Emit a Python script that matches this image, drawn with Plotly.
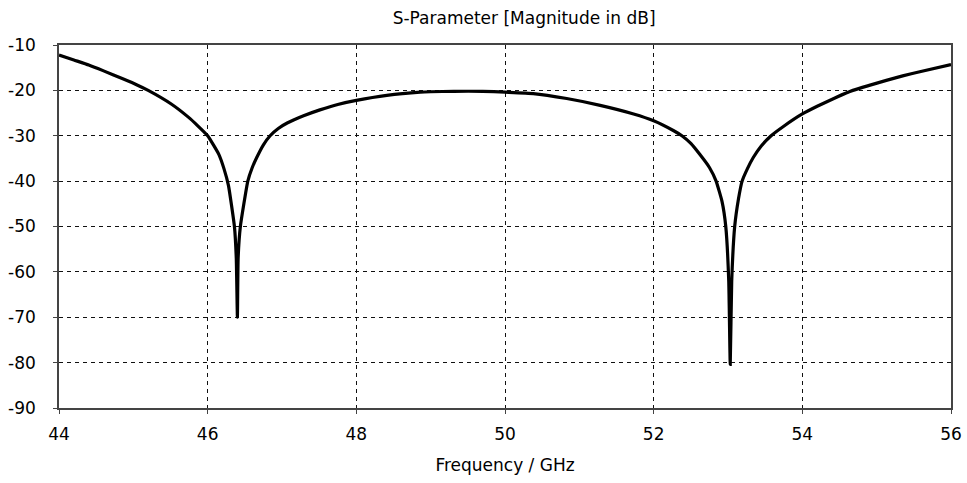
import plotly.graph_objects as go

# S11 magnitude
freq_ghz = [44.00, 44.20, 44.40, 44.60, 44.85, 45.05, 45.20, 45.51, 45.74, 45.86,
            46.00, 46.15, 46.22, 46.28, 46.36, 46.385, 46.40, 46.41, 46.44, 46.54,
            46.60, 46.66, 46.75, 46.84, 46.95, 47.07, 47.29, 47.51, 47.75, 48.00,
            48.41, 48.86, 49.00, 49.31, 49.70, 50.00, 50.38, 50.83, 51.28, 51.73,
            52.00, 52.27, 52.38, 52.50, 52.62, 52.75, 52.84, 52.92, 52.97, 53.01,
            53.03, 53.05, 53.09, 53.14, 53.19, 53.26, 53.34, 53.45, 53.58, 53.75,
            54.00, 54.20, 54.46, 54.68, 54.90, 55.13, 55.35, 55.58, 56.00]
s11_db = [-12.2, -13.3, -14.4, -15.7, -17.4, -18.8, -20.0, -23.0, -25.9, -27.7,
          -30.0, -34.1, -37.3, -41.0, -50.0, -57.0, -70.0, -57.0, -50.0, -40.0,
          -37.0, -34.8, -32.0, -30.0, -28.4, -27.2, -25.6, -24.3, -23.1, -22.2,
          -21.1, -20.4, -20.3, -20.2, -20.2, -20.4, -20.7, -21.8, -23.3, -25.2,
          -26.7, -28.9, -30.0, -31.7, -34.1, -37.0, -40.0, -44.5, -50.0, -62.0,
          -80.4, -62.0, -50.0, -44.0, -40.0, -37.3, -34.8, -32.2, -30.0, -27.9,
          -25.2, -23.5, -21.5, -20.0, -18.9, -17.8, -16.8, -15.9, -14.3]

x_ticks = [44, 46, 48, 50, 52, 54, 56]
y_ticks = [-90, -80, -70, -60, -50, -40, -30, -20, -10]
y_tick_text = ['-90', '-80', '-70', '-60', '-50', '-40', '-30', '-20', '-10']

fig = go.Figure()
fig.add_trace(go.Scatter(x=freq_ghz, y=s11_db, mode='lines',
                         line=dict(color='black', width=3.2, shape='spline', smoothing=0.4),
                         showlegend=False))

axis_style = dict(showline=True, linecolor='#444444', linewidth=1.5, mirror=True,
                  showgrid=True, gridcolor='#111111', griddash='4px,4px', gridwidth=1,
                  ticks='outside', ticklen=4, tickcolor='#444444', automargin=False,
                  zeroline=False, tickfont=dict(size=17, color='black'))

fig.update_layout(
    width=967, height=483,
    margin=dict(l=59, r=16, t=45, b=75),
    plot_bgcolor='white', paper_bgcolor='white',
    font=dict(family='DejaVu Sans', color='black'),
    title=dict(text='S-Parameter [Magnitude in dB]', x=0.542, xanchor='center',
               y=0.963, yanchor='middle', font=dict(size=17, color='black')),
    xaxis=dict(range=[44, 56], tickvals=x_ticks, ticklabelstandoff=6,
               title=dict(text='Frequency / GHz', font=dict(size=17), standoff=16),
               **axis_style),
    yaxis=dict(range=[-90, -10], tickvals=y_ticks, ticktext=y_tick_text,
               ticklabelstandoff=14, **axis_style),
)

# drop the default page margin so the figure sits at the window's corner
fig.write_html('out.html', config={'displayModeBar': False},
               post_script="document.body.style.margin='0';")
